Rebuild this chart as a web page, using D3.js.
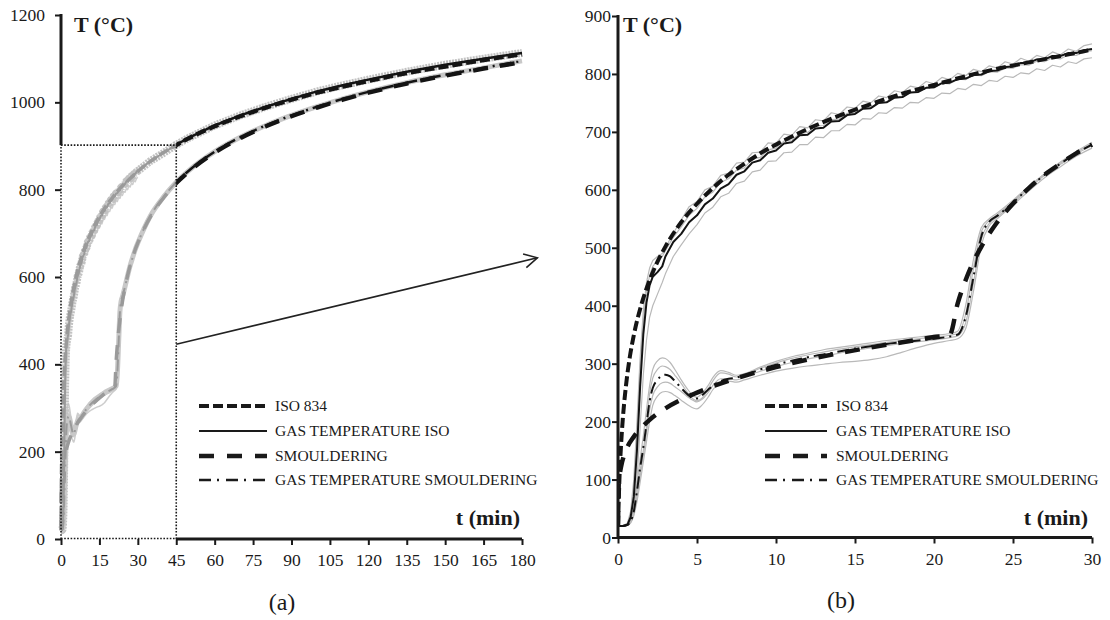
<!DOCTYPE html>
<meta charset="utf-8">
<head>
<script src="https://d3js.org/d3.v7.min.js"></script>
<style>
  body { margin: 0; background: #fff; }
  text { font-family: "Liberation Serif", "Times New Roman", serif; fill: #1a1a1a; }
</style>
</head>
<body>
<div id="chart"></div>
<script>

// ---- data ----
const isoCurve = [[0,20],[0.1,108],[0.2,163],[0.3,203],[0.5,261],[0.75,312],[1,349],[1.5,404],[2,444],[2.5,476],[3,502],[4,544],[5,576],[6,603],[7,626],[8,645],[9,663],[10,678],[12,705],[14,728],[16,748],[18,766],[20,781],[22,796],[24,809],[26,820],[28,831],[30,842],[35,865],[40,885],[45,902],[50,918],[60,945],[70,968],[80,988],[90,1006],[100,1022],[110,1036],[120,1049],[135,1067],[150,1082],[165,1097],[180,1110]];

const smCurve = [[0,20],[0.05,95],[0.1,107],[0.2,123],[0.5,150],[1,174],[1.5,190],[2,203],[3,223],[4,238],[5,250],[6,261],[8,279],[10,294],[12,307],[14,318],[16,328],[18,337],[20,346],[21,350],[21.5,404],[22,444],[22.5,476],[23,502],[24,544],[25,576],[26,603],[27,626],[28,645],[29,663],[30,678],[35,739],[40,781],[45,815],[50,842],[60,885],[70,918],[80,945],[90,968],[100,988],[110,1006],[120,1022],[135,1043],[150,1061],[165,1077],[180,1092]];

// ISO test, gas temperature (mean) and thermocouples, first 30 min
const gasTime = [0,0.3,0.6,0.8,1,1.2,1.4,1.6,1.8,2,2.2,2.5,2.8,3,3.5,
  4,4.5,5,5.5,6,6.5,7,7.5,8,8.5,9,9.5,10,10.5,11,11.5,12,12.5,13,13.5,14,14.5,15,15.5,16,16.5,17,17.5,18,18.5,19,19.5,20,20.5,21,21.5,22,22.5,23,23.5,24,24.5,25,25.5,26,26.5,27,27.5,28,28.5,29,29.5,30];
const gasIso = [20,20,22,35,70,150,260,350,405,435,450,458,468,485,510,
  524,544,556,575,585,602,610,626,632,647,651,664,668,680,682,694,695,706,707,718,719,729,731,740,741,750,751,759,760,768,769,776,777,784,785,791,792,798,799,805,806,812,813,819,819,825,825,831,831,836,836,841,843];
const tcIsoA = [20,20,25,45,100,200,310,390,440,465,478,485,490,500,525,
  548,571,580,600,606,625,629,646,648,664,665,681,680,696,694,709,707,721,719,733,730,743,741,753,750,762,759,771,768,779,776,787,783,794,790,801,797,808,804,814,810,821,817,827,822,832,828,838,833,843,839,849,852];
const tcIsoB = [20,20,23,40,85,175,290,375,425,452,468,478,485,495,518,
  536,556,568,588,596,613,619,634,638,653,656,669,672,684,686,697,699,710,711,721,722,732,733,742,742,751,751,760,760,768,768,776,776,784,783,791,790,798,797,804,803,810,810,816,815,822,821,828,826,833,832,838,840];
const tcIsoC = [20,20,21,28,50,100,190,280,340,380,400,420,440,455,485,
  505,524,540,560,570,588,594,611,615,631,634,649,650,664,665,678,678,691,690,702,702,713,712,723,722,733,732,742,741,751,750,759,758,767,766,775,773,782,780,789,787,796,794,802,800,809,806,815,812,821,818,826,828];
const gasIsoTail = [[35,866],[40,884],[45,903],[50,919],[60,947],[70,970],[80,990],[90,1008],[100,1025],[110,1039],[120,1052],[135,1070],[150,1086],[165,1100],[180,1113]];

// smouldering test, gas temperature (mean) and thermocouples, first 30 min
const smTime = [0,0.3,0.6,0.8,1,1.2,1.4,1.6,1.8,2,2.2,2.5,2.8,3,3.3,3.6,4,4.4,4.8,5,5.3,5.7,6,6.5,7,7.5,8,9,10,11,12,13,14,15,16,17,18,19,20,21,21.5,22,22.5,23,23.5,24,25,26,27,28,29,30];
const gasSm = [20,20,22,28,45,80,120,155,195,235,258,272,280,281,278,270,258,247,240,240,245,255,262,270,274,276,280,290,298,305,311,316,321,326,330,334,337,340,343,347,350,380,450,520,545,555,578,603,626,645,663,678];
const tcSmA = [20,20,22,30,50,90,135,175,220,262,290,305,310,309,302,290,272,256,244,242,248,262,276,288,285,280,283,294,304,312,318,324,328,332,336,340,343,346,349,352,356,400,480,535,550,560,582,606,628,648,666,682];
const tcSmB = [20,20,22,28,45,78,115,150,190,248,275,290,296,295,290,280,266,250,238,236,240,256,270,284,282,277,281,292,301,309,315,320,325,329,333,337,340,343,346,349,352,385,465,528,547,557,580,604,627,646,664,680];
const tcSmC = [20,20,21,26,40,70,105,140,180,220,245,260,267,268,266,260,252,243,236,234,238,250,262,274,274,272,277,287,295,302,308,313,318,323,327,331,335,338,341,345,348,370,440,515,542,553,577,602,625,644,662,676];
const tcSmD = [20,20,21,25,38,62,95,130,165,200,228,244,251,252,250,245,237,229,223,222,228,242,255,268,270,268,272,280,287,292,296,299,302,304,307,312,320,328,335,340,343,360,425,505,538,550,574,598,621,640,658,672];
const gasSmTail = [[35,741],[40,783],[45,817],[50,844],[60,887],[70,920],[80,947],[90,970],[100,990],[110,1008],[120,1024],[135,1045],[150,1063],[165,1079],[180,1095]];

const legendLabels = ["ISO 834", "GAS TEMPERATURE ISO", "SMOULDERING", "GAS TEMPERATURE SMOULDERING"];
const leftXTicks = [0,15,30,45,60,75,90,105,120,135,150,165,180];
const leftYTicks = [0,200,400,600,800,1000,1200];
const rightXTicks = [0,5,10,15,20,25,30];
const rightYTicks = [0,100,200,300,400,500,600,700,800,900];
const zoomBox = [45, 902];          // t (min), T (°C) of the dotted box
const arrowFrom = [45, 446], arrowTo = [186, 644];

// ---- helpers ----
const SERIF = "'Liberation Serif', 'Times New Roman', serif";
const zip = (ts, vs) => ts.map((t, i) => [t, vs[i]]);
const gasIsoPts = zip(gasTime, gasIso);
const gasSmPts = zip(smTime, gasSm);
const tcIso = [tcIsoA, tcIsoB, tcIsoC].map(v => zip(gasTime, v));
const tcSm = [tcSmA, tcSmB, tcSmC, tcSmD].map(v => zip(smTime, v));

const styles = [
  { w: 4,   dash: "10,4" },        // ISO 834
  { w: 2,   dash: null },          // gas ISO
  { w: 4.5, dash: "15,12" },       // smouldering
  { w: 2,   dash: "12,5,2,5" }     // gas smouldering
];

const svg = d3.select("#chart").append("svg")
  .attr("width", 1110)
  .attr("height", 620);

const defs = svg.append("defs");
defs.append("marker")
  .attr("id", "arrow")
  .attr("viewBox", "-14 -8 16 16")
  .attr("refX", 0).attr("refY", 0)
  .attr("markerWidth", 16).attr("markerHeight", 16)
  .attr("markerUnits", "userSpaceOnUse")
  .attr("orient", "auto")
  .append("path")
  .attr("d", "M-13,-7 L0,0 L-13,7")
  .attr("fill", "none")
  .attr("stroke", "#222")
  .attr("stroke-width", 1.6);

function addClip(id, x0, y0, x1, y1) {
  defs.append("clipPath").attr("id", id)
    .append("rect").attr("x", x0).attr("y", y0).attr("width", x1 - x0).attr("height", y1 - y0);
}

function drawLine(g, pts, x, y, color, w, dash, curve) {
  g.append("path")
    .datum(pts)
    .attr("fill", "none")
    .attr("stroke", color)
    .attr("stroke-width", w)
    .attr("stroke-dasharray", dash)
    .attr("stroke-linejoin", "round")
    .attr("d", d3.line()
      .x(d => x(d[0]))
      .y(d => y(d[1]))
      .curve(curve || d3.curveMonotoneX));
}

function drawAxes(x, y, xt, yt, ypad) {
  const gx = svg.append("g")
    .attr("transform", `translate(0, ${y(0)})`)
    .call(d3.axisBottom(x).tickValues(xt).tickFormat(d3.format("d"))
      .tickSize(6).tickSizeOuter(0).tickPadding(9));
  const gy = svg.append("g")
    .attr("transform", `translate(${x(0)}, 0)`)
    .call(d3.axisLeft(y).tickValues(yt).tickFormat(d3.format("d"))
      .tickSize(6).tickSizeOuter(0).tickPadding(ypad));
  [gx, gy].forEach(g => {
    g.attr("font-family", SERIF).attr("font-size", 17);
    g.select(".domain").remove();
    g.selectAll(".tick line").attr("stroke", "#1a1a1a").attr("stroke-width", 2);
    g.selectAll(".tick text")
      .attr("font-family", SERIF)
      .style("font-size", "17.5px")
      .attr("fill", "#1a1a1a");
  });
}

function axisLine(x1, y1, x2, y2) {
  svg.append("line")
    .attr("x1", x1).attr("y1", y1).attr("x2", x2).attr("y2", y2)
    .attr("stroke", "#1a1a1a").attr("stroke-width", 3);
}

function dotted(x1, y1, x2, y2) {
  svg.append("line")
    .attr("x1", x1).attr("y1", y1).attr("x2", x2).attr("y2", y2)
    .attr("stroke", "#1a1a1a").attr("stroke-width", 1.6)
    .attr("stroke-dasharray", "1.6,1.6");
}

function drawLegend(x1, x2, tx, rows) {
  legendLabels.forEach((lab, i) => {
    const s = styles[i];
    svg.append("line")
      .attr("x1", x1).attr("x2", x2).attr("y1", rows[i]).attr("y2", rows[i])
      .attr("stroke", "#1a1a1a")
      .attr("stroke-width", i === 3 ? 2.5 : s.w)
      .attr("stroke-dasharray", i === 2 ? "15,13" : (i === 3 ? "12,6,2,7" : s.dash));
    svg.append("text")
      .attr("x", tx).attr("y", rows[i] + 5)
      .attr("font-family", SERIF)
      .style("font-size", "15.5px")
      .text(lab);
  });
}

function axisTitles(tx, ty, ex, ey) {
  svg.append("text").attr("x", tx).attr("y", ty).attr("font-family", SERIF)
    .style("font-size", "22px").style("font-weight", "bold").text("T (°C)");
  svg.append("text").attr("x", ex).attr("y", ey).attr("text-anchor", "end").attr("font-family", SERIF)
    .style("font-size", "22px").style("font-weight", "bold").text("t (min)");
}

// ================= (a) full 180 min =================
const xL = d3.scaleLinear().domain([0, 180]).range([61, 522]);
const yL = d3.scaleLinear().domain([0, 1200]).range([539, 15]);

addClip("clipEarly", xL(0) - 4, yL(1200), xL(zoomBox[0]), yL(0));
addClip("clipLate", xL(zoomBox[0]), yL(1200), xL(180) + 4, yL(0));

const isoFullGas = gasIsoPts.concat(gasIsoTail);
const smFullGas = gasSmPts.concat(gasSmTail);
const fullSeries = [isoCurve, isoFullGas, smCurve, smFullGas];

// thermocouple spread (light band)
const gBand = svg.append("g");
tcIso.concat(tcSm).forEach(p => drawLine(gBand, p, xL, yL, "#cdcdcd", 1.5, null, d3.curveLinear));
drawLine(gBand, isoFullGas, xL, yL, "#c2c2c2", 8, "2,1", d3.curveLinear);
drawLine(gBand, smFullGas, xL, yL, "#c8c8c8", 5, null);

// early part (grey) and late part (black)
[["clipEarly", "#9a9a9a", 1], ["clipLate", "#141414", 1.25]].forEach(([clip, col, k]) => {
  const g = svg.append("g").attr("clip-path", `url(#${clip})`);
  [1, 3, 2, 0].forEach(i => {
    const s = styles[i];
    const w = (i === 0 ? 3.5 : (i === 2 ? 3.5 : 2)) * k;
    drawLine(g, fullSeries[i], xL, yL, col, w, s.dash, i === 1 ? d3.curveLinear : d3.curveMonotoneX);
  });
});

drawAxes(xL, yL, leftXTicks, leftYTicks, 10);
axisLine(xL(0), yL(zoomBox[1]), xL(0), yL(1200) - 1);
axisLine(xL(zoomBox[0]), yL(0), xL(180), yL(0));
dotted(xL(0), yL(0), xL(0), yL(zoomBox[1]));
dotted(xL(0), yL(zoomBox[1]), xL(zoomBox[0]), yL(zoomBox[1]));
dotted(xL(zoomBox[0]), yL(0), xL(zoomBox[0]), yL(zoomBox[1]));
dotted(xL(0), yL(0) - 0.5, xL(zoomBox[0]), yL(0) - 0.5);

svg.append("line")
  .attr("x1", xL(arrowFrom[0])).attr("y1", yL(arrowFrom[1]))
  .attr("x2", xL(arrowTo[0])).attr("y2", yL(arrowTo[1]))
  .attr("stroke", "#222").attr("stroke-width", 1.6)
  .attr("marker-end", "url(#arrow)");

axisTitles(74, 32, 520, 525);
drawLegend(199, 267, 275, [406, 431, 456, 480]);

svg.append("text").attr("x", 282).attr("y", 610).attr("text-anchor", "middle")
  .attr("font-family", SERIF).style("font-size", "24px").text("(a)");

// ================= (b) first 30 min =================
const xR = d3.scaleLinear().domain([0, 30]).range([618, 1092]);
const yR = d3.scaleLinear().domain([0, 900]).range([537.5, 16]);
addClip("clipR", xR(0), yR(900) - 10, xR(30) + 2, yR(0));

const gR = svg.append("g").attr("clip-path", "url(#clipR)");
const upTo30 = p => p.filter(d => d[0] <= 30);

tcIso.forEach(p => drawLine(gR, p, xR, yR, "#b9b9b9", 1.2, null, d3.curveLinear));
tcSm.forEach(p => drawLine(gR, p, xR, yR, "#b9b9b9", 1.2, null));
drawLine(gR, gasIsoPts, xR, yR, "#141414", styles[1].w, null, d3.curveLinear);
drawLine(gR, gasSmPts, xR, yR, "#141414", styles[3].w, styles[3].dash);
drawLine(gR, upTo30(smCurve), xR, yR, "#141414", styles[2].w, styles[2].dash);
drawLine(gR, upTo30(isoCurve), xR, yR, "#141414", styles[0].w, styles[0].dash);

drawAxes(xR, yR, rightXTicks, rightYTicks, 1);
axisLine(xR(0), yR(0), xR(0), yR(900) - 1);
axisLine(xR(0), yR(0), xR(30), yR(0));

axisTitles(623, 32, 1088, 525);
drawLegend(765, 827, 836, [406, 431, 456, 480]);

svg.append("text").attr("x", 841).attr("y", 608).attr("text-anchor", "middle")
  .attr("font-family", SERIF).style("font-size", "24px").text("(b)");

</script>
</body>
